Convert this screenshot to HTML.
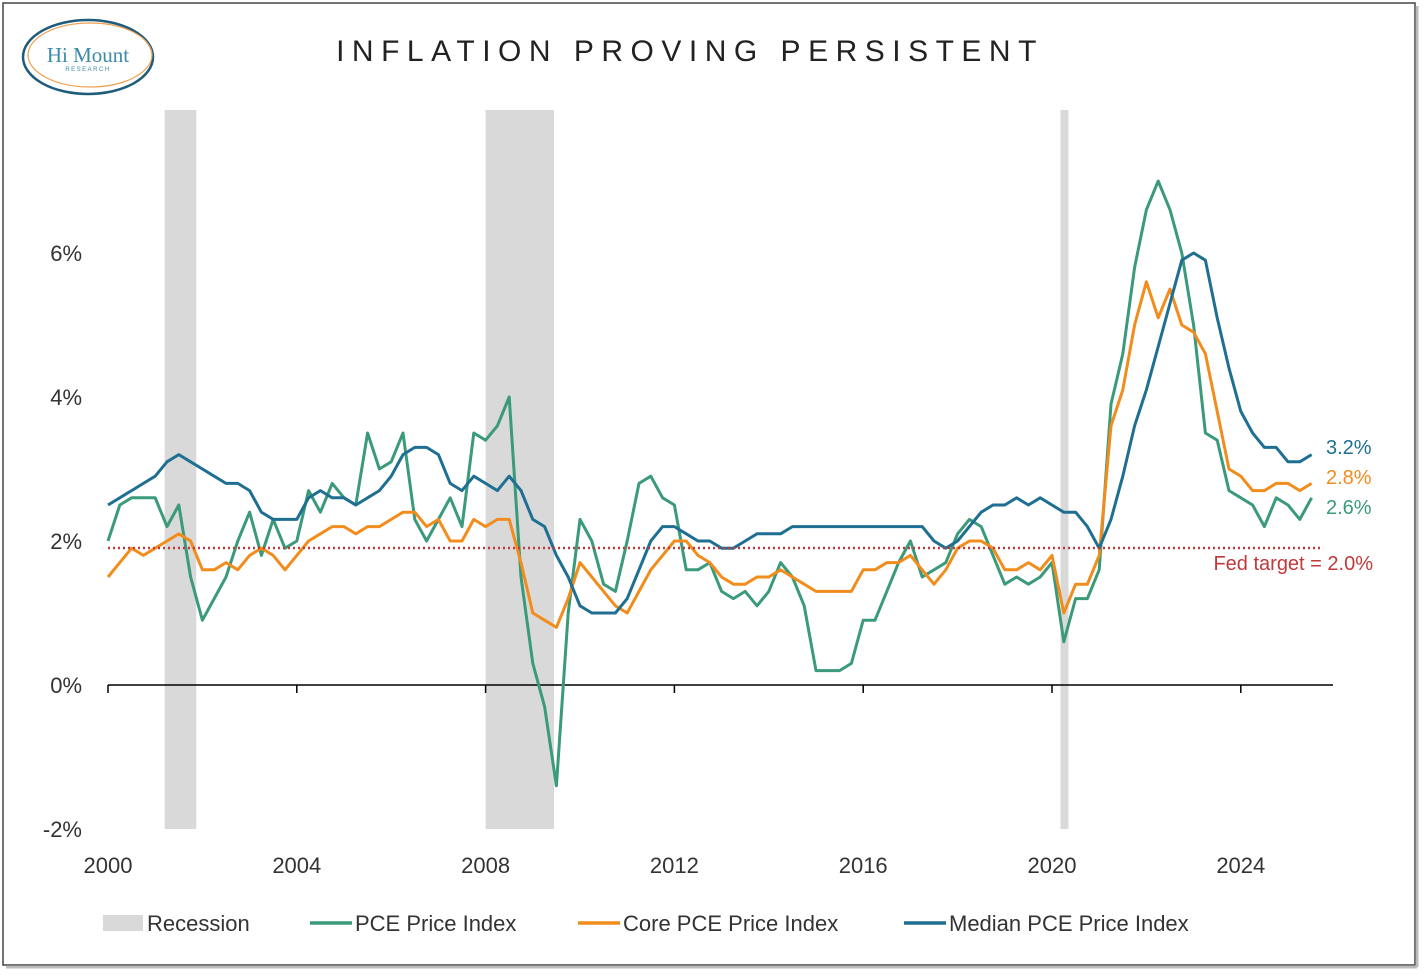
<!DOCTYPE html>
<html><head><meta charset="utf-8">
<style>
html,body{margin:0;padding:0;background:#fff;}
body{width:1425px;height:974px;overflow:hidden;font-family:"Liberation Sans",sans-serif;}
</style></head>
<body>
<svg id="chart" width="1425" height="974" xmlns="http://www.w3.org/2000/svg">
<rect x="3" y="3" width="1412" height="962" fill="#fff" stroke="#444" stroke-width="1.5"/>
<line x1="6" y1="967" x2="1417" y2="967" stroke="#bbb" stroke-width="3"/>
<line x1="1417" y1="6" x2="1417" y2="967" stroke="#bbb" stroke-width="3"/>
<g>
<ellipse cx="88" cy="57" rx="65" ry="37" fill="none" stroke="#1f5b7a" stroke-width="2.5"/>
<ellipse cx="90" cy="55" rx="62" ry="32" fill="none" stroke="#f0a050" stroke-width="1.2"/>
<text x="88" y="62" text-anchor="middle" font-family="Liberation Serif,serif" font-size="21" fill="#3a8aa8">Hi Mount</text>
<text x="88" y="71" text-anchor="middle" font-size="6" fill="#3a8aa8" letter-spacing="1.5">RESEARCH</text>
</g>
<text x="690" y="61" text-anchor="middle" font-size="30" letter-spacing="7.5" fill="#222">INFLATION PROVING PERSISTENT</text>
<g id="plot"></g>
<g id="legend">
<rect x="103" y="915" width="40" height="16" fill="#d9d9d9"/>
<text x="147" y="931" font-size="22" fill="#333">Recession</text>
<line x1="310" y1="923" x2="352" y2="923" stroke="#3a9a7a" stroke-width="3.5"/>
<text x="355" y="931" font-size="22" fill="#333">PCE Price Index</text>
<line x1="578" y1="923" x2="620" y2="923" stroke="#f28c1c" stroke-width="3.5"/>
<text x="623" y="931" font-size="22" fill="#333">Core PCE Price Index</text>
<line x1="904" y1="923" x2="946" y2="923" stroke="#1f6f92" stroke-width="3.5"/>
<text x="949" y="931" font-size="22" fill="#333">Median PCE Price Index</text>
</g>
</svg>
<script>
const yTicks=[-2,0,2,4,6];
const xTicks=[2000,2004,2008,2012,2016,2020,2024];
const recessions=[[2001.2,2001.87],[2008.0,2009.45],[2020.18,2020.35]];
const fedTarget=2.0;
const pce=[2.0,2.5,2.6,2.6, 2.6,2.2,2.5,1.5, 0.9,1.2,1.5,2.0, 2.4,1.8,2.3,1.9, 2.0,2.7,2.4,2.8, 2.6,2.5,3.5,3.0, 3.1,3.5,2.3,2.0, 2.3,2.6,2.2,3.5, 3.4,3.6,4.0,1.5, 0.3,-0.3,-1.4,1.0, 2.3,2.0,1.4,1.3, 2.0,2.8,2.9,2.6, 2.5,1.6,1.6,1.7, 1.3,1.2,1.3,1.1, 1.3,1.7,1.5,1.1, 0.2,0.2,0.2,0.3, 0.9,0.9,1.3,1.7, 2.0,1.5,1.6,1.7, 2.1,2.3,2.2,1.8, 1.4,1.5,1.4,1.5, 1.7,0.6,1.2,1.2, 1.6,3.9,4.6,5.8, 6.6,7.0,6.6,6.0, 5.0,3.5,3.4,2.7, 2.6,2.5,2.2,2.6, 2.5,2.3,2.6];
const corePce=[1.5,1.7,1.9,1.8, 1.9,2.0,2.1,2.0, 1.6,1.6,1.7,1.6, 1.8,1.9,1.8,1.6, 1.8,2.0,2.1,2.2, 2.2,2.1,2.2,2.2, 2.3,2.4,2.4,2.2, 2.3,2.0,2.0,2.3, 2.2,2.3,2.3,1.7, 1.0,0.9,0.8,1.2, 1.7,1.5,1.3,1.1, 1.0,1.3,1.6,1.8, 2.0,2.0,1.8,1.7, 1.5,1.4,1.4,1.5, 1.5,1.6,1.5,1.4, 1.3,1.3,1.3,1.3, 1.6,1.6,1.7,1.7, 1.8,1.6,1.4,1.6, 1.9,2.0,2.0,1.9, 1.6,1.6,1.7,1.6, 1.8,1.0,1.4,1.4, 1.8,3.6,4.1,5.0, 5.6,5.1,5.5,5.0, 4.9,4.6,3.8,3.0, 2.9,2.7,2.7,2.8, 2.8,2.7,2.8];
const medianPce=[2.5,2.6,2.7,2.8, 2.9,3.1,3.2,3.1, 3.0,2.9,2.8,2.8, 2.7,2.4,2.3,2.3, 2.3,2.6,2.7,2.6, 2.6,2.5,2.6,2.7, 2.9,3.2,3.3,3.3, 3.2,2.8,2.7,2.9, 2.8,2.7,2.9,2.7, 2.3,2.2,1.8,1.5, 1.1,1.0,1.0,1.0, 1.2,1.6,2.0,2.2, 2.2,2.1,2.0,2.0, 1.9,1.9,2.0,2.1, 2.1,2.1,2.2,2.2, 2.2,2.2,2.2,2.2, 2.2,2.2,2.2,2.2, 2.2,2.2,2.0,1.9, 2.0,2.2,2.4,2.5, 2.5,2.6,2.5,2.6, 2.5,2.4,2.4,2.2, 1.9,2.3,2.9,3.6, 4.1,4.7,5.3,5.9, 6.0,5.9,5.1,4.4, 3.8,3.5,3.3,3.3, 3.1,3.1,3.2];
const endLabels=["3.2%","2.8%","2.6%"];

const NS="http://www.w3.org/2000/svg";
const X=t=>108+(t-2000)*47.2;
const Y=v=>685-v*72;
const plot=document.getElementById('plot');
function mk(tag,attrs,parent){const e=document.createElementNS(NS,tag);for(const k in attrs)e.setAttribute(k,attrs[k]);(parent||plot).appendChild(e);return e;}
recessions.forEach(r=>{
 const e=mk('rect',{x:X(r[0]),y:110,width:X(r[1])-X(r[0]),height:829-110,fill:'#d9d9d9'});
 
 
});
yTicks.forEach(v=>{
 const t=mk('text',{x:82,y:Y(v)+8,'text-anchor':'end','font-size':22,fill:'#333'});
 t.textContent=v+'%';
 
 
});
const ax=mk('line',{x1:108,y1:Y(0),x2:1333,y2:Y(0),stroke:'#000','stroke-width':1.5});


xTicks.forEach(v=>{
 mk('line',{x1:X(v),y1:Y(0),x2:X(v),y2:Y(0)+8,stroke:'#000','stroke-width':1.5});
 const t=mk('text',{x:X(v),y:873,'text-anchor':'middle','font-size':22,fill:'#333'});
 t.textContent=v;
 
 
});
function series(arr,color,name){
 const pts=arr.map((v,i)=>X(2000+i*0.25).toFixed(1)+','+Y(v).toFixed(1)).join(' ');
 const p=mk('polyline',{points:pts,fill:'none',stroke:color,'stroke-width':3,'stroke-linejoin':'round'});
 
 
}
series(pce,'#3a9a7a','pce-line');
series(corePce,'#f28c1c','core-pce-line');
series(medianPce,'#1f6f92','median-pce-line');
const fl=mk('line',{x1:108,y1:Y(fedTarget)+7,x2:1320,y2:Y(fedTarget)+7,stroke:'#c0393b','stroke-width':2.5,'stroke-dasharray':'2,3'});


const ft=mk('text',{x:1373,y:Y(fedTarget)+29,'text-anchor':'end','font-size':20,fill:'#c0393b'});
ft.textContent='Fed target = '+fedTarget.toFixed(1)+'%';


[['#1f6f92',454],['#f28c1c',484],['#3a9a7a',514]].forEach((c,i)=>{
 const t=mk('text',{x:1326,y:c[1],'font-size':20,fill:c[0]});
 t.textContent=endLabels[i];
 
 
});
</script>
</body></html>
